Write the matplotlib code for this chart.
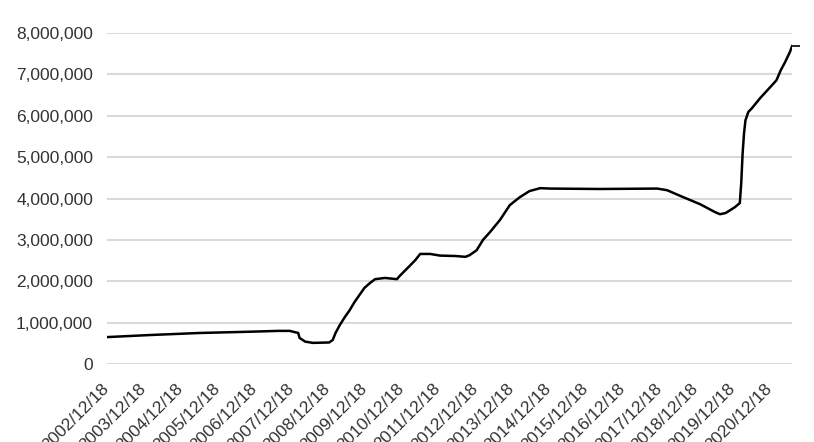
import numpy as np
import pandas as pd
import matplotlib
matplotlib.use("Agg")
import matplotlib.pyplot as plt
from matplotlib.ticker import FuncFormatter

plt.rcParams['font.family'] = ['Liberation Sans', 'DejaVu Sans']

# weekly balance, millions
dates = ["2002-12-18", "2004-02-18", "2005-06-29", "2006-11-08", "2007-08-15",
         "2007-12-05", "2008-02-27", "2008-03-12", "2008-05-07", "2008-07-23",
         "2008-12-31", "2009-02-04", "2009-03-04", "2009-04-15", "2009-06-03",
         "2009-07-22", "2009-09-09", "2009-10-28", "2009-12-16", "2010-02-10",
         "2010-03-31", "2010-07-07", "2010-11-03", "2010-12-01", "2011-03-09",
         "2011-05-04", "2011-06-22", "2011-09-28", "2012-01-04", "2012-06-06",
         "2012-09-12", "2012-10-24", "2013-01-02", "2013-03-06", "2013-05-15",
         "2013-08-21", "2013-11-27", "2014-03-05", "2014-06-11", "2014-09-24",
         "2015-01-01", "2016-05-11", "2017-11-29", "2018-03-07", "2018-07-18",
         "2019-01-30", "2019-06-26", "2019-08-14", "2019-10-09", "2020-01-08",
         "2020-02-26", "2020-03-11", "2020-03-25", "2020-04-08", "2020-04-22",
         "2020-05-20", "2020-06-24", "2020-09-16", "2020-12-23", "2021-02-24",
         "2021-04-07", "2021-05-19", "2021-07-07", "2021-07-28"]
values = [0.65, 0.70, 0.75, 0.78, 0.80,
          0.80, 0.75, 0.63, 0.54, 0.51,
          0.52, 0.58, 0.75, 0.94, 1.13,
          1.30, 1.50, 1.67, 1.84, 1.96,
          2.05, 2.08, 2.05, 2.13, 2.37,
          2.51, 2.66, 2.66, 2.62, 2.61,
          2.59, 2.63, 2.75, 3.00, 3.19,
          3.48, 3.84, 4.03, 4.18, 4.25,
          4.24, 4.23, 4.24, 4.20, 4.06,
          3.86, 3.67, 3.62, 3.65, 3.79,
          3.89, 4.37, 5.10, 5.58, 5.89,
          6.09, 6.18, 6.43, 6.69, 6.86,
          7.10, 7.29, 7.54, 7.68]
values = np.array(values) * 1e6
dates = pd.to_datetime(dates)

tick_dates = pd.to_datetime([f"{y}-12-18" for y in range(2002, 2021)])
tick_labels = [f"{y}/12/18" for y in range(2002, 2021)]

fig = plt.figure(figsize=(8.14, 4.42), dpi=100)
ax = fig.add_axes([0.1314, 0.1765, 0.973 - 0.1314, 0.9253 - 0.1765])

ax.plot(dates, values, color='black', lw=1.8)
# short dash trailing off the last point
ax.plot(dates[-1:], values[-1:], marker=[(0, 0), (1, 0)], ms=12, mew=1.2,
        color='black', clip_on=False)

ax.set_xlim(dates[0], dates[-1])
ax.set_ylim(0, 8e6)
ax.set_yticks(np.arange(0, 8e6 + 1, 1e6))
ax.yaxis.set_major_formatter(FuncFormatter(lambda v, p: f"{v:,.0f}"))
ax.set_xticks(tick_dates)
ax.set_xticklabels(tick_labels, rotation=45, ha='right', va='center', rotation_mode='anchor')

ax.grid(axis='y', color='#d9d9d9', lw=1.5)
ax.set_axisbelow(True)
for s in ax.spines.values():
    s.set_visible(False)
ax.tick_params(axis='both', length=0, labelsize=12.5, colors='#333333')
ax.tick_params(axis='y', pad=10)
ax.tick_params(axis='x', pad=16)

fig.savefig("out.png", dpi=100)
